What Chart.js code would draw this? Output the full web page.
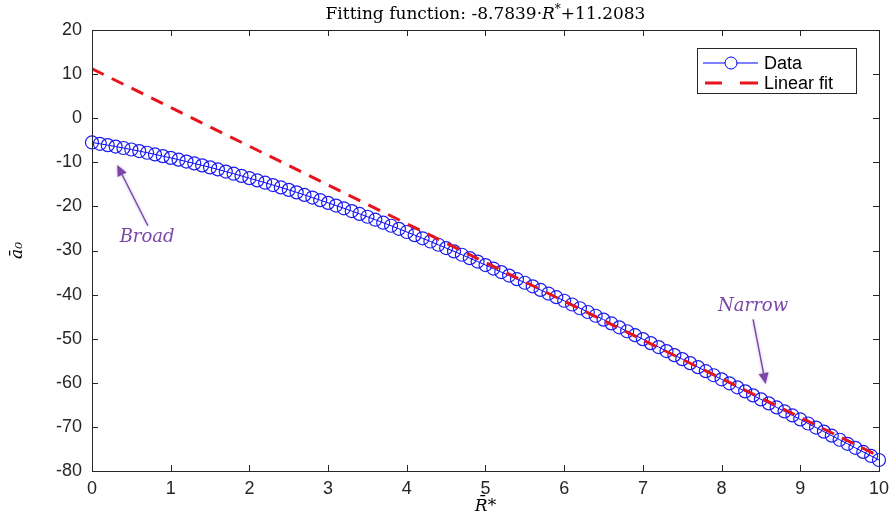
<!DOCTYPE html>
<html>
<head>
<meta charset="utf-8">
<script src="https://cdn.jsdelivr.net/npm/chart.js@4.4.1/dist/chart.umd.min.js"></script>
<style>
  html, body { margin: 0; padding: 0; background: #fff; }
  #wrap { width: 896px; height: 522px; }
</style>
</head>
<body>
<div id="wrap"><canvas id="chart" width="896" height="522"></canvas></div>
<script>
// R* samples (x) and the matching a0 values
const rStar = [
  0.0, 0.1, 0.2, 0.3, 0.4, 0.5, 0.6, 0.7, 0.8, 0.9,
  1.0, 1.1, 1.2, 1.3, 1.4, 1.5, 1.6, 1.7, 1.8, 1.9,
  2.0, 2.1, 2.2, 2.3, 2.4, 2.5, 2.6, 2.7, 2.8, 2.9,
  3.0, 3.1, 3.2, 3.3, 3.4, 3.5, 3.6, 3.7, 3.8, 3.9,
  4.0, 4.1, 4.2, 4.3, 4.4, 4.5, 4.6, 4.7, 4.8, 4.9,
  5.0, 5.1, 5.2, 5.3, 5.4, 5.5, 5.6, 5.7, 5.8, 5.9,
  6.0, 6.1, 6.2, 6.3, 6.4, 6.5, 6.6, 6.7, 6.8, 6.9,
  7.0, 7.1, 7.2, 7.3, 7.4, 7.5, 7.6, 7.7, 7.8, 7.9,
  8.0, 8.1, 8.2, 8.3, 8.4, 8.5, 8.6, 8.7, 8.8, 8.9,
  9.0, 9.1, 9.2, 9.3, 9.4, 9.5, 9.6, 9.7, 9.8, 9.9,
  10.0
];
const a0Data = [
  -5.50, -5.80, -6.11, -6.43, -6.76, -7.10, -7.46, -7.83, -8.21, -8.60,
  -9.00, -9.41, -9.83, -10.26, -10.70, -11.15, -11.62, -12.10, -12.59, -13.09,
  -13.60, -14.11, -14.63, -15.16, -15.70, -16.25, -16.82, -17.40, -17.99, -18.59,
  -19.20, -19.81, -20.43, -21.06, -21.70, -22.35, -23.02, -23.70, -24.39, -25.09,
  -25.80, -26.51, -27.23, -27.96, -28.70, -29.45, -30.20, -30.96, -31.73, -32.51,
  -33.30, -34.09, -34.89, -35.69, -36.50, -37.31, -38.12, -38.94, -39.76, -40.58,
  -41.40, -42.24, -43.09, -43.94, -44.80, -45.67, -46.54, -47.42, -48.31, -49.20,
  -50.10, -51.00, -51.90, -52.81, -53.72, -54.63, -55.54, -56.45, -57.37, -58.29,
  -59.21, -60.12, -61.03, -61.94, -62.85, -63.76, -64.67, -65.58, -66.49, -67.40,
  -68.31, -69.23, -70.15, -71.07, -71.99, -72.91, -73.83, -74.75, -75.67, -76.59,
  -77.51
];

// linear fit end points
const fitX = [0, 10];
const fitY = [11.2083, -76.6307];

const xTicks = [0, 1, 2, 3, 4, 5, 6, 7, 8, 9, 10];
const yTicks = [20, 10, 0, -10, -20, -30, -40, -50, -60, -70, -80];

const legendLabels = ['Data', 'Linear fit'];

// title pieces: [text, italic, superscript]
const titleParts = [
  ['Fitting function: -8.7839\u00b7', false, false],
  ['R', true, false],
  ['*', false, true],
  ['+11.2083', false, false]
];

// annotations: text anchor, arrow tail, arrow tip (data units)
const notes = [
  { text: 'Broad',  at: [0.70, -26.9], from: [0.71, -24.4], to: [0.32, -10.6] },
  { text: 'Narrow', at: [8.40, -42.6], from: [8.40, -45.6], to: [8.56, -60.3] }
];

const axisColor = '#262626';
const purple = '#7a46a8';
const serif = '"DejaVu Serif", serif';

function drawArrow(ctx, x1, y1, x2, y2) {
  const ang = Math.atan2(y2 - y1, x2 - x1);
  const head = 11, w = 5;
  ctx.save();
  ctx.strokeStyle = purple;
  ctx.fillStyle = purple;
  ctx.shadowColor = 'rgba(122,70,168,0.45)';
  ctx.shadowBlur = 3;
  ctx.lineWidth = 1.4;
  ctx.beginPath();
  ctx.moveTo(x1, y1);
  ctx.lineTo(x2 - Math.cos(ang) * head, y2 - Math.sin(ang) * head);
  ctx.stroke();
  ctx.beginPath();
  ctx.moveTo(x2, y2);
  ctx.lineTo(x2 - Math.cos(ang) * head - Math.sin(ang) * w, y2 - Math.sin(ang) * head + Math.cos(ang) * w);
  ctx.lineTo(x2 - Math.cos(ang) * head + Math.sin(ang) * w, y2 - Math.sin(ang) * head - Math.cos(ang) * w);
  ctx.closePath();
  ctx.fill();
  ctx.restore();
}

function partFont(p) {
  if (p[2]) return '12px ' + serif;
  return (p[1] ? 'italic ' : '') + '17px ' + serif;
}

// title, box, inward ticks, legend and notes
const extras = {
  id: 'extras',
  afterDraw(chart) {
    const ctx = chart.ctx;
    const a = chart.chartArea;
    const xs = chart.scales.x, ys = chart.scales.y;
    const tl = 6;
    ctx.save();

    // title
    ctx.fillStyle = '#000';
    ctx.textBaseline = 'alphabetic';
    ctx.textAlign = 'left';
    let total = 0;
    titleParts.forEach(p => { ctx.font = partFont(p); total += ctx.measureText(p[0]).width; });
    let tx = (a.left + a.right) / 2 - total / 2;
    titleParts.forEach(p => {
      ctx.font = partFont(p);
      ctx.fillText(p[0], tx, p[2] ? 13 : 19);
      tx += ctx.measureText(p[0]).width;
    });

    ctx.strokeStyle = axisColor;
    ctx.lineWidth = 1;
    ctx.strokeRect(Math.round(a.left) + 0.5, Math.round(a.top) + 0.5,
      Math.round(a.right - a.left), Math.round(a.bottom - a.top));
    ctx.beginPath();
    xTicks.forEach(v => {
      const px = Math.round(xs.getPixelForValue(v)) + 0.5;
      ctx.moveTo(px, a.bottom); ctx.lineTo(px, a.bottom - tl);
      ctx.moveTo(px, a.top); ctx.lineTo(px, a.top + tl);
    });
    yTicks.forEach(v => {
      const py = Math.round(ys.getPixelForValue(v)) + 0.5;
      ctx.moveTo(a.left, py); ctx.lineTo(a.left + tl, py);
      ctx.moveTo(a.right, py); ctx.lineTo(a.right - tl, py);
    });
    ctx.stroke();

    // legend
    const lx = 697, ly = 48, lw = 159, lh = 45;
    ctx.fillStyle = '#fff';
    ctx.fillRect(lx, ly, lw, lh);
    ctx.strokeStyle = axisColor;
    ctx.strokeRect(lx + 0.5, ly + 0.5, lw, lh);
    const r1 = ly + 15, r2 = ly + 35;
    ctx.strokeStyle = '#0000ff';
    ctx.lineWidth = 1;
    ctx.beginPath();
    ctx.moveTo(lx + 6, r1); ctx.lineTo(lx + 61, r1);
    ctx.stroke();
    ctx.beginPath();
    ctx.arc(lx + 34, r1, 6, 0, Math.PI * 2);
    ctx.fillStyle = '#fff';
    ctx.fill();
    ctx.stroke();
    ctx.strokeStyle = '#e8141c';
    ctx.lineWidth = 3;
    ctx.beginPath();
    ctx.moveTo(lx + 8, r2); ctx.lineTo(lx + 25, r2);
    ctx.moveTo(lx + 43, r2); ctx.lineTo(lx + 61, r2);
    ctx.stroke();
    ctx.fillStyle = '#000';
    ctx.font = '18px "Liberation Sans", Arial, sans-serif';
    ctx.textBaseline = 'middle';
    ctx.textAlign = 'left';
    ctx.fillText(legendLabels[0], lx + 67, r1 + 1);
    ctx.fillText(legendLabels[1], lx + 67, r2 + 1);

    // annotations
    notes.forEach(n => {
      drawArrow(ctx, xs.getPixelForValue(n.from[0]), ys.getPixelForValue(n.from[1]),
        xs.getPixelForValue(n.to[0]), ys.getPixelForValue(n.to[1]));
      ctx.fillStyle = purple;
      ctx.font = 'italic 18px ' + serif;
      ctx.textAlign = 'center';
      ctx.textBaseline = 'middle';
      ctx.fillText(n.text, xs.getPixelForValue(n.at[0]), ys.getPixelForValue(n.at[1]));
    });
    ctx.restore();
  }
};

new Chart(document.getElementById('chart'), {
  type: 'scatter',
  data: {
    datasets: [
      {
        label: legendLabels[0],
        data: rStar.map((x, i) => ({ x: x, y: a0Data[i] })),
        showLine: true,
        borderColor: '#0000ff',
        borderWidth: 1,
        pointStyle: 'circle',
        pointRadius: 6.5,
        pointBorderWidth: 1.2,
        pointBorderColor: '#1c1cf0',
        pointBackgroundColor: 'rgba(255,255,255,0)',
        clip: false,
        order: 2
      },
      {
        label: legendLabels[1],
        data: fitX.map((x, i) => ({ x: x, y: fitY[i] })),
        showLine: true,
        borderColor: '#e8141c',
        borderWidth: 3,
        borderDash: [13, 9],
        pointRadius: 0,
        order: 1
      }
    ]
  },
  options: {
    responsive: false,
    animation: false,
    layout: { padding: { left: 0, right: 17, top: 30, bottom: 0 } },
    plugins: {
      legend: { display: false },
      tooltip: { enabled: false },
      title: { display: false }
    },
    scales: {
      x: {
        type: 'linear',
        min: 0, max: 10,
        grid: { display: false, drawTicks: false },
        border: { display: false },
        ticks: {
          stepSize: 1,
          padding: 7,
          color: axisColor,
          font: { family: '"Liberation Sans", Arial, sans-serif', size: 18 }
        },
        title: {
          display: true,
          text: 'R\u0304*',
          color: '#000',
          font: { family: serif, size: 17, style: 'italic' },
          padding: { top: 0, bottom: 5 }
        },
        afterFit(scale) { scale.height = 51; }
      },
      y: {
        type: 'linear',
        min: -80, max: 20,
        grid: { display: false, drawTicks: false },
        border: { display: false },
        ticks: {
          stepSize: 10,
          padding: 10,
          color: axisColor,
          font: { family: '"Liberation Sans", Arial, sans-serif', size: 18 }
        },
        title: {
          display: true,
          text: 'a\u0304\u2080',
          color: '#000',
          font: { family: serif, size: 17, style: 'italic' },
          padding: { top: 7, bottom: 7 }
        },
        afterFit(scale) { scale.width = 92; }
      }
    }
  },
  plugins: [extras]
});
</script>
</body>
</html>
